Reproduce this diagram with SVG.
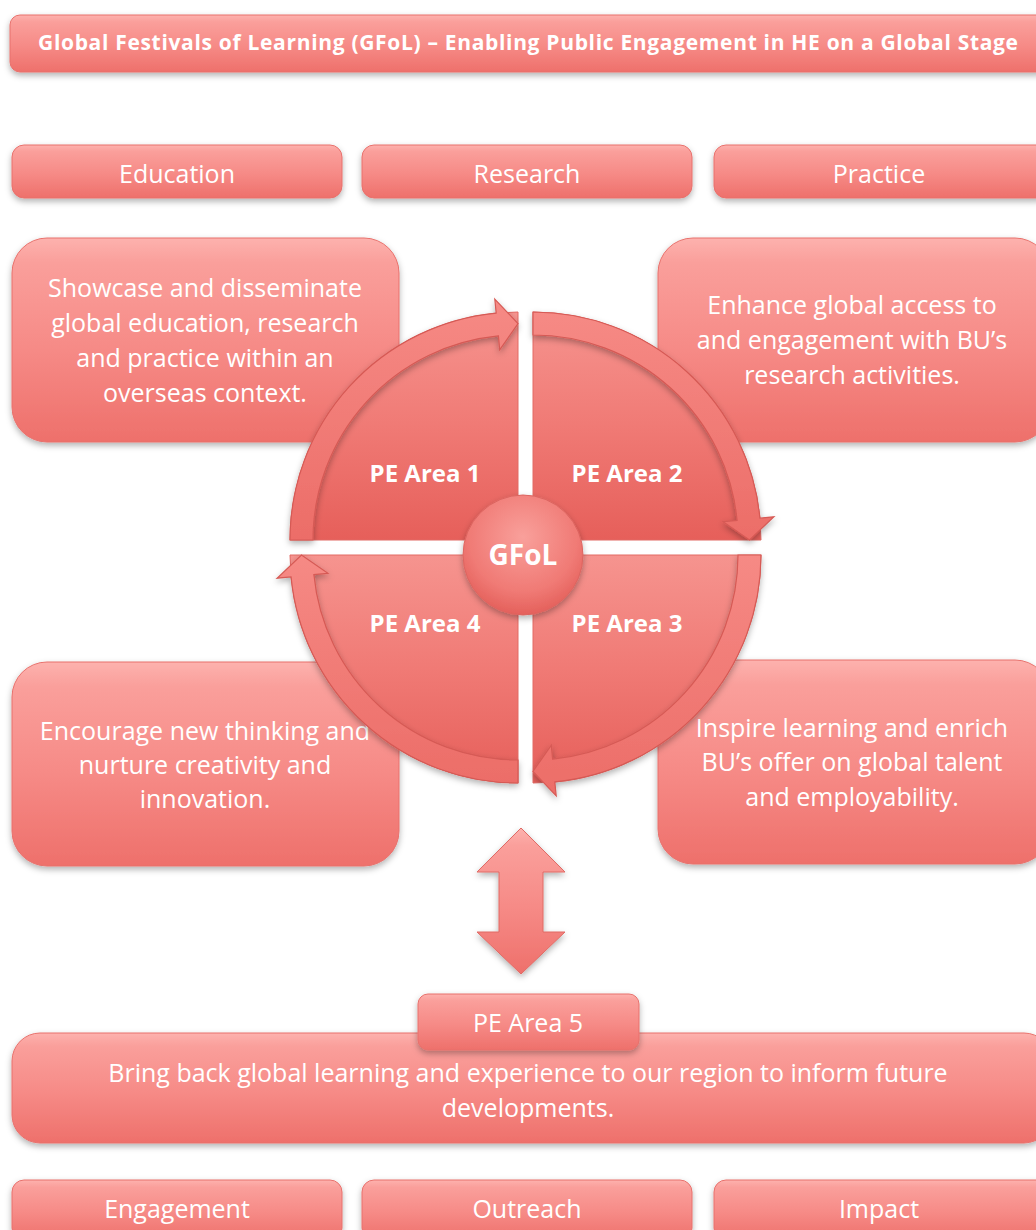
<svg xmlns="http://www.w3.org/2000/svg" width="1036" height="1230" viewBox="0 0 1036 1230">
<defs>
<linearGradient id="boxGrad" x1="0" y1="0" x2="0" y2="1">
<stop offset="0" stop-color="#fdb2ae"/>
<stop offset="0.12" stop-color="#fa9f9b"/>
<stop offset="0.55" stop-color="#f68a86"/>
<stop offset="1" stop-color="#ee706b"/>
</linearGradient>
<linearGradient id="quadGrad" x1="0" y1="0" x2="0" y2="1">
<stop offset="0" stop-color="#f6948f"/>
<stop offset="0.5" stop-color="#f07a75"/>
<stop offset="1" stop-color="#e65f5a"/>
</linearGradient>
<linearGradient id="ringGrad" x1="0" y1="0" x2="0" y2="1">
<stop offset="0" stop-color="#f68a85"/>
<stop offset="1" stop-color="#ec6d68"/>
</linearGradient>
<radialGradient id="hubGrad" cx="0.5" cy="0.35" r="0.65">
<stop offset="0" stop-color="#f9a09b"/>
<stop offset="0.7" stop-color="#f07a75"/>
<stop offset="1" stop-color="#e4605b"/>
</radialGradient>
<filter id="shadow" x="-10%" y="-10%" width="120%" height="130%">
<feDropShadow dx="0" dy="3" stdDeviation="3" flood-color="#000" flood-opacity="0.3"/>
</filter>
</defs>
<style>
.box{fill:url(#boxGrad);stroke:#e8716c;stroke-width:1;filter:url(#shadow)}
.quad{fill:url(#quadGrad);stroke:#e26a65;stroke-width:1}
.ring{fill:url(#ringGrad);stroke:#d65a55;stroke-width:1.2;filter:url(#shadow)}
.hub{fill:url(#hubGrad);stroke:#dc6560;stroke-width:1;filter:url(#shadow)}
.dbl{fill:url(#boxGrad);stroke:#e06a65;stroke-width:1;filter:url(#shadow)}
text{font-family:"Open Sans","Noto Sans",sans-serif;fill:#ffffff;text-anchor:middle}
.t{font-size:25px}
.lbl{font-size:24px;font-weight:bold}
.ttl{font-size:21px;font-weight:bold}
.hubt{font-size:28px;font-weight:bold}
</style>

<g id="title">
<rect class="box" x="10" y="15" width="1040" height="57" rx="10"/>
<text class="ttl" x="528" y="50" textLength="980" lengthAdjust="spacing">Global Festivals of Learning (GFoL) – Enabling Public Engagement in HE on a Global Stage</text>
</g>

<g id="education">
<rect class="box" x="12" y="145" width="330" height="53" rx="12"/>
<text class="t" x="177" y="183">Education</text>
</g>
<g id="research">
<rect class="box" x="362" y="145" width="330" height="53" rx="12"/>
<text class="t" x="527" y="183">Research</text>
</g>
<g id="practice">
<rect class="box" x="714" y="145" width="336" height="53" rx="12"/>
<text class="t" x="879" y="183">Practice</text>
</g>

<g id="box-tl">
<rect class="box" x="12" y="238" width="387" height="204" rx="35"/>
<text class="t" x="205" y="297">Showcase and disseminate</text>
<text class="t" x="205" y="332">global education, research</text>
<text class="t" x="205" y="367">and practice within an</text>
<text class="t" x="205" y="402">overseas context.</text>
</g>
<g id="box-tr">
<rect class="box" x="658" y="238" width="392" height="204" rx="35"/>
<text class="t" x="852" y="314">Enhance global access to</text>
<text class="t" x="852" y="349">and engagement with BU’s</text>
<text class="t" x="852" y="384">research activities.</text>
</g>
<g id="box-bl">
<rect class="box" x="12" y="662" width="387" height="204" rx="35"/>
<text class="t" x="205" y="740">Encourage new thinking and</text>
<text class="t" x="205" y="774">nurture creativity and</text>
<text class="t" x="205" y="808">innovation.</text>
</g>
<g id="box-br">
<rect class="box" x="658" y="660" width="392" height="204" rx="35"/>
<text class="t" x="852" y="737">Inspire learning and enrich</text>
<text class="t" x="852" y="771">BU’s offer on global talent</text>
<text class="t" x="852" y="806">and employability.</text>
</g>

<g id="pe-area-1">
<path class="quad" d="M518,540 L290,540 A228,228 0 0 1 518,312 Z"/>
<text class="lbl" x="425" y="482">PE Area 1</text>
</g>
<g id="pe-area-2">
<path class="quad" d="M533,540 L533,312 A228,228 0 0 1 761,540 Z"/>
<text class="lbl" x="627" y="482">PE Area 2</text>
</g>
<g id="pe-area-3">
<path class="quad" d="M533,555 L761,555 A228,228 0 0 1 533,783 Z"/>
<text class="lbl" x="627" y="632">PE Area 3</text>
</g>
<g id="pe-area-4">
<path class="quad" d="M518,555 L518,783 A228,228 0 0 1 290,555 Z"/>
<text class="lbl" x="425" y="632">PE Area 4</text>
</g>

<g id="connectors">
<path class="ring" d="M290,540 A228,228 0 0 1 496.15,313.05 L494.8,299.1 L518,323.5 L499.7,349.9 L498.4,335.9 A205,205 0 0 0 313,540 Z"/>
<path class="ring" d="M533,312 A228,228 0 0 1 759.95,518.15 L773.9,516.8 L749.5,540 L723.1,521.7 L737.1,520.4 A205,205 0 0 0 533,335 Z"/>
<path class="ring" d="M761,555 A228,228 0 0 1 554.85,781.95 L556.2,795.9 L533,771.5 L551.3,745.1 L552.6,759.1 A205,205 0 0 0 738,555 Z"/>
<path class="ring" d="M518,783 A228,228 0 0 1 291.05,576.85 L277.1,578.2 L301.5,555 L327.9,573.3 L313.9,574.6 A205,205 0 0 0 518,760 Z"/>
<path class="dbl" d="M521,828 L565,872 L543,872 L543,932 L565,932 L521,974 L477,932 L499,932 L499,872 L477,872 Z"/>
</g>

<g id="gfol">
<circle class="hub" cx="523" cy="555" r="60"/>
<text class="hubt" x="523" y="565">GFoL</text>
</g>

<g id="box-bottom">
<rect class="box" x="12" y="1033" width="1040" height="110" rx="28"/>
<text class="t" x="528" y="1082">Bring back global learning and experience to our region to inform future</text>
<text class="t" x="528" y="1117">developments.</text>
</g>
<g id="pe-area-5">
<rect class="box" x="418" y="994" width="221" height="56" rx="10"/>
<text class="t" x="528" y="1032">PE Area 5</text>
</g>

<g id="engagement">
<rect class="box" x="12" y="1180" width="330" height="60" rx="12"/>
<text class="t" x="177" y="1218">Engagement</text>
</g>
<g id="outreach">
<rect class="box" x="362" y="1180" width="330" height="60" rx="12"/>
<text class="t" x="527" y="1218">Outreach</text>
</g>
<g id="impact">
<rect class="box" x="714" y="1180" width="336" height="60" rx="12"/>
<text class="t" x="879" y="1218">Impact</text>
</g>
</svg>
